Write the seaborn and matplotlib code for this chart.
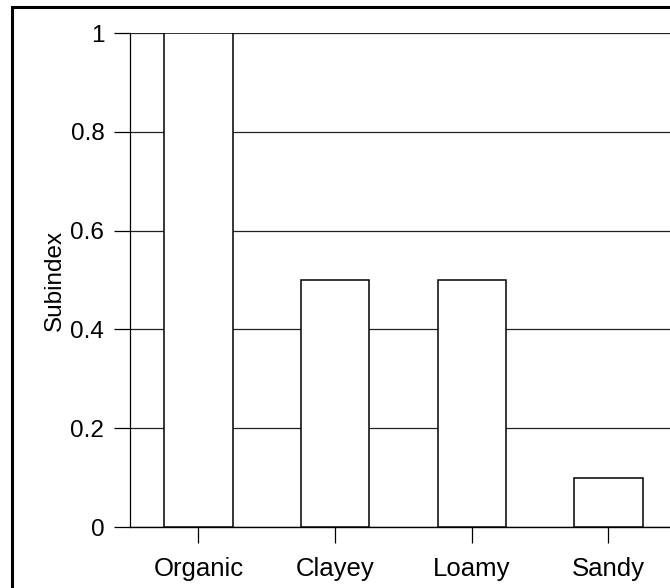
import matplotlib
matplotlib.use("Agg")
import matplotlib.pyplot as plt
import seaborn as sns
import pandas as pd
from matplotlib.patches import Rectangle

# soil texture subindex values
soil = ["Organic", "Clayey", "Loamy", "Sandy"]
subindex = [1.0, 0.5, 0.5, 0.1]
yticks = [0, 0.2, 0.4, 0.6, 0.8, 1]
ytick_labels = ["0", "0.2", "0.4", "0.6", "0.8", "1"]

df = pd.DataFrame({"Soil": soil, "Subindex": subindex})

sns.set_style("white")
plt.rcParams["font.family"] = ["Liberation Sans", "DejaVu Sans"]
plt.rcParams["text.color"] = "black"
plt.rcParams["xtick.color"] = "black"
plt.rcParams["ytick.color"] = "black"
plt.rcParams["axes.labelcolor"] = "black"

fig = plt.figure(figsize=(6.7, 5.88), dpi=100)
ax = fig.add_axes([130 / 670, 1 - 527 / 588, 1 - 130 / 670, (527 - 33) / 588])

sns.barplot(data=df, x="Soil", y="Subindex", color="white", edgecolor="black",
            linewidth=1.1, width=0.5, saturation=1, ax=ax, zorder=3)

ax.set_ylim(0, 1)
ax.set_xlim(-0.5, 3.45)
ax.set_yticks(yticks)
ax.set_yticklabels(ytick_labels)
ax.yaxis.grid(True, color="#222222", linewidth=0.9)
ax.set_axisbelow(True)

for s in ["top", "right", "bottom"]:
    ax.spines[s].set_visible(False)
ax.spines["left"].set_color("black")
ax.spines["left"].set_linewidth(0.9)
ax.axhline(0, color="black", linewidth=1.0, zorder=2, clip_on=False)

ax.tick_params(axis="y", direction="out", length=11.5, width=0.9,
               labelsize=17.5, pad=7, left=True)
ax.tick_params(axis="x", direction="out", length=11.5, width=0.9,
               labelsize=18.5, pad=10, bottom=True)
ax.set_xlabel("")
ax.set_ylabel("Subindex", fontsize=17.5, labelpad=3)

# frame around the figure (cropped on right and bottom)
fig.patches.append(Rectangle((12 / 670, -0.5), 2, 0.5 + 1 - 7 / 588,
                             transform=fig.transFigure, fill=False,
                             edgecolor="black", linewidth=2.2))

fig.savefig("out.png", dpi=100)
